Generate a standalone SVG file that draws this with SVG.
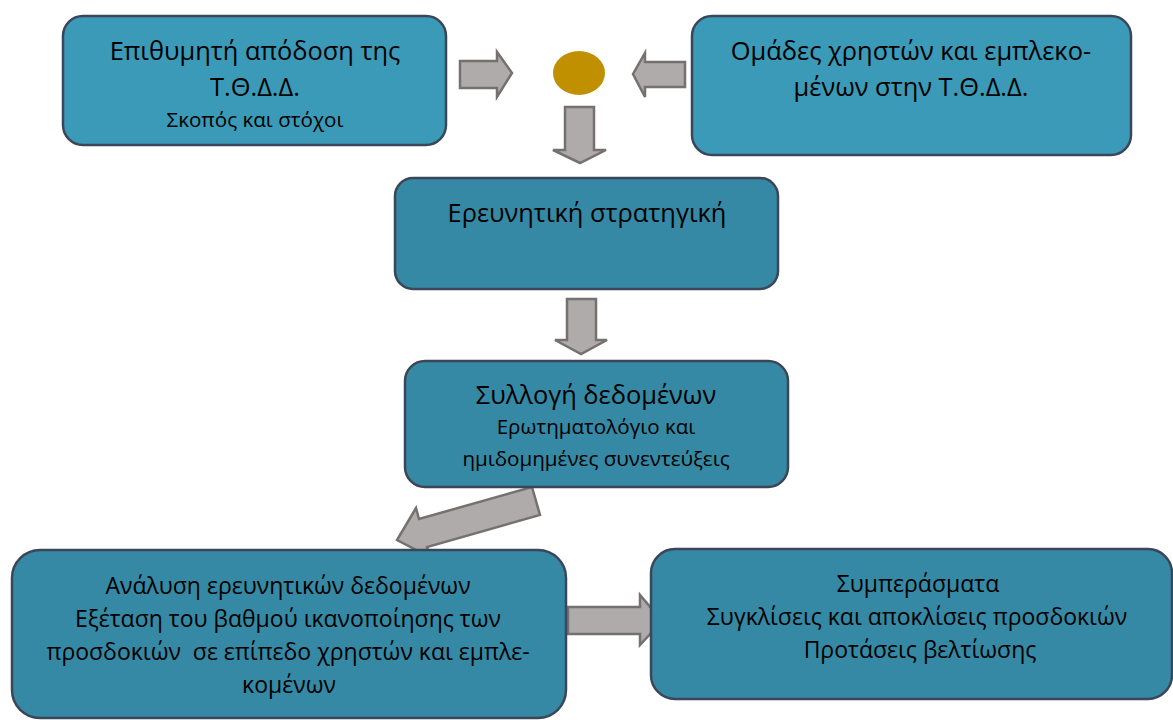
<svg xmlns="http://www.w3.org/2000/svg" width="1173" height="720" viewBox="0 0 1173 720">
<style>
.box{stroke:#3b4759;stroke-width:2.5}
.top{fill:#3a9ab7}
.mid{fill:#3589a4}
.arr{fill:#afabab;stroke:#767171;stroke-width:2.5;stroke-linejoin:miter}
text{font-family:"Open Sans","Noto Sans","Liberation Sans",sans-serif;fill:#000;text-anchor:middle}
.l{font-size:25.4px}
.s{font-size:20.6px}
.m{font-size:23px}
</style>
<rect width="1173" height="720" fill="#fff"/>
<g id="connectors">
<polygon class="arr" points="460,61 497,61 497,52 512,73 497,97 497,88 460,88"/>
<polygon class="arr" points="685,62 645,62 645,53 633,74 645,97 645,87 685,87"/>
<ellipse cx="579" cy="73" rx="26" ry="22" fill="#c09000"/>
<polygon class="arr" points="565,107 594,107 594,150 606,150 580,163 553,150 565,150"/>
<polygon class="arr" points="567,299 596,299 596,340 607,340 581,354 555,340 567,340"/>
<polygon class="arr" points="532,487 540,515 427,547 430,557 397,540 416,508 419,519"/>
<polygon class="arr" points="568,607 640,607 640,595 662,621 640,645 640,634 568,634"/>
</g>
<g id="n1">
<rect class="box top" x="63" y="16" width="383" height="129" rx="20"/>
<text class="l" x="255" y="60">Επιθυμητή απόδοση της</text>
<text class="l" x="255" y="96">Τ.Θ.Δ.Δ.</text>
<text class="s" x="255" y="127">Σκοπός και στόχοι</text>
</g>
<g id="n2">
<rect class="box top" x="692" y="16" width="439" height="139" rx="20"/>
<text class="l" x="911" y="60">Ομάδες χρηστών και εμπλεκο-</text>
<text class="l" x="911" y="96">μένων στην Τ.Θ.Δ.Δ.</text>
</g>
<g id="n3">
<rect class="box mid" x="395" y="178" width="383" height="111" rx="18"/>
<text class="l" x="587" y="222">Ερευνητική στρατηγική</text>
</g>
<g id="n4">
<rect class="box mid" x="405" y="361" width="383" height="126" rx="20"/>
<text class="l" x="596" y="404">Συλλογή δεδομένων</text>
<text class="s" x="596" y="434">Ερωτηματολόγιο και</text>
<text class="s" x="596" y="466">ημιδομημένες συνεντεύξεις</text>
</g>
<g id="n5">
<rect class="box mid" x="12" y="550" width="554" height="168" rx="28"/>
<text class="m" x="288" y="594">Ανάλυση ερευνητικών δεδομένων</text>
<text class="m" x="288" y="627">Εξέταση του βαθμού ικανοποίησης των</text>
<text class="m" x="288" y="660" xml:space="preserve">προσδοκιών  σε επίπεδο χρηστών και εμπλε-</text>
<text class="m" x="289" y="693">κομένων</text>
</g>
<g id="n6">
<rect class="box mid" x="651" y="549" width="521" height="150" rx="24"/>
<text class="m" x="918" y="592">Συμπεράσματα</text>
<text class="m" x="917" y="625">Συγκλίσεις και αποκλίσεις προσδοκιών</text>
<text class="m" x="920" y="658">Προτάσεις βελτίωσης</text>
</g>
</svg>
